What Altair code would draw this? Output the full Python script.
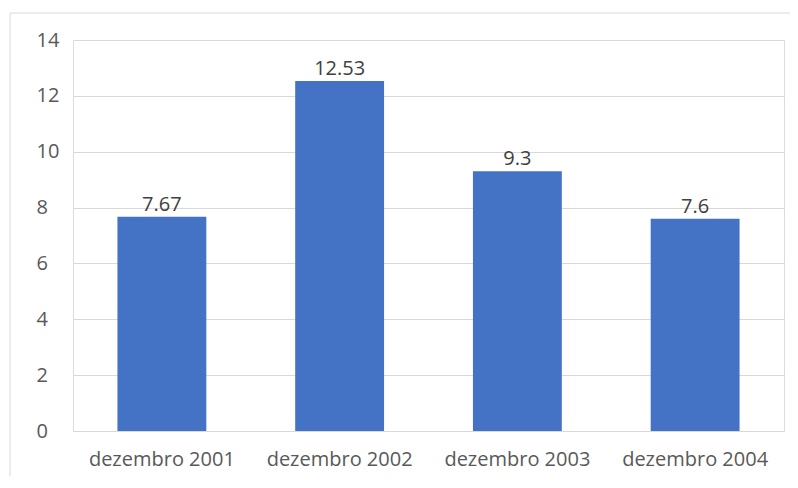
import altair as alt
import pandas as pd

categories = ["dezembro 2001", "dezembro 2002", "dezembro 2003", "dezembro 2004"]
values = [7.67, 12.53, 9.3, 7.6]
labels = ["7.67", "12.53", "9.3", "7.6"]

df = pd.DataFrame({"cat": categories, "val": values, "lab": labels})

FONT = "Open Sans"

x = alt.X("cat:N", sort=categories, title=None,
          scale=alt.Scale(paddingInner=0.5, paddingOuter=0.25),
          axis=alt.Axis(labelAngle=0, labelFontSize=20, labelColor="#595959", labelFont=FONT,
                        labelPadding=18, ticks=False, domain=True, domainColor="#d9d9d9", grid=False))
y = alt.Y("val:Q", title=None,
          scale=alt.Scale(domain=[0, 14], nice=False),
          axis=alt.Axis(values=[0, 2, 4, 6, 8, 10, 12, 14], labelFontSize=20, labelColor="#595959",
                        labelFont=FONT, labelAlign="left", labelPadding=37, ticks=False, domain=False,
                        gridColor="#d9d9d9", gridWidth=1))

border = alt.Chart(pd.DataFrame({"a": [0]})).mark_rect(
    fill=None, stroke="#d9d9d9", strokeWidth=1
).encode(x=alt.value(-63), x2=alt.value(760), y=alt.value(-27), y2=alt.value(480))

bars = alt.Chart(df).mark_bar(color="#4472C4").encode(x=x, y=y)

text = alt.Chart(df).mark_text(dy=-6, baseline="alphabetic", fontSize=20, color="#404040", font=FONT).encode(
    x=alt.X("cat:N", sort=categories), y="val:Q", text="lab:N")

chart = alt.layer(border, bars, text).properties(
    width=711, height=391,
    autosize=alt.AutoSizeParams(type="none"),
    padding={"left": 65, "top": 32, "right": 6, "bottom": 45},
).configure_view(stroke=None).configure(background="white")

chart.save("out.html", embed_options={"renderer": "svg", "actions": False})
